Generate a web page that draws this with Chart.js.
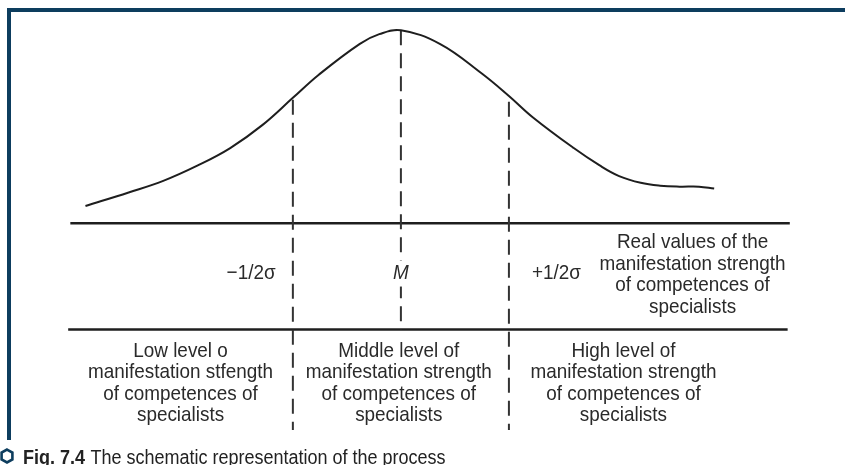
<!DOCTYPE html>
<html>
<head>
<meta charset="utf-8">
<script src="https://cdn.jsdelivr.net/npm/chart.js@4.4.1/dist/chart.umd.min.js"></script>
<style>
  html,body{margin:0;padding:0;background:#fff;}
  #wrap{position:relative;width:845px;height:465px;overflow:hidden;background:#fff;}
  #frame{position:absolute;left:7px;top:8px;width:838px;height:432px;border-top:4px solid #0d3d5e;border-left:4px solid #0d3d5e;box-sizing:border-box;}
  #fig{position:absolute;left:0;top:0;width:845px;height:465px;}
  #caption{position:absolute;left:0;top:446px;height:22px;font:20px "Liberation Sans",Arial,sans-serif;color:#222;white-space:nowrap;line-height:22px;}
  #caption svg{position:absolute;left:0;top:2px;}
  #caption span{position:absolute;left:23px;top:0;transform:scaleX(0.9);transform-origin:0 0;}
  #caption b{margin-right:6px;}
</style>
</head>
<body>
<div id="wrap">
  <div id="frame"></div>
  <canvas id="fig" width="845" height="465"></canvas>
  <div id="caption"><svg width="14" height="16" viewBox="0 0 14 16"><polygon points="7,1.6 12.4,4.6 12.4,11.4 7,14.4 1.6,11.4 1.6,4.6" fill="none" stroke="#0d3d5e" stroke-width="2.6"/></svg><span><b>Fig. 7.4</b>The schematic representation of the process</span></div>
</div>
<script>
/* distribution curve, x in sigma units from M, y relative to the peak */
const curveX=[-1.46,-1.26,-1.1,-0.94,-0.79,-0.64,-0.5,-0.38,-0.19,-0.1,0,0.18,0.37,0.5,0.61,0.8,0.92,1.01,1.11,1.2,1.29,1.38,1.45];
const curveY=[0.09,0.16,0.22,0.3,0.39,0.51,0.65,0.77,0.93,0.98,1,0.93,0.78,0.66,0.55,0.39,0.3,0.245,0.21,0.195,0.19,0.19,0.18];

/* vertical dashed marks: -1/2σ, M, +1/2σ */
const markX=[-0.5,0,0.5];
const markTop=[0.64,1,0.63];
const markBottom=[-1.07,-0.55,-1.07];

/* the two horizontal rules of the scale table */
const ruleY=[0,-0.55];
const ruleFrom=[-1.53,-1.54];
const ruleTo=[1.8,1.79];

/* texts */
const markLabels=['\u22121/2\u03c3','M','+1/2\u03c3'];
const axisNote=['Real values of the','manifestation strength','of competences of','specialists'];
const levelTexts=[
  ['Low level o','manifestation stfength','of competences of','specialists'],
  ['Middle level of','manifestation strength','of competences of','specialists'],
  ['High level of','manifestation strength','of competences of','specialists']
];

const INK='#2a2a2a';
const FONT='"Liberation Sans",Arial,sans-serif';
const SQUEEZE=0.9; // narrow the face a bit, condensed look

const datasets=[];
datasets.push({data:curveX.map((x,i)=>({x,y:curveY[i]})),borderColor:'#1e1e1e',borderWidth:2,tension:0.4,pointRadius:0,showLine:true});
markX.forEach((x,i)=>{
  datasets.push({data:[{x,y:markTop[i]},{x,y:markBottom[i]}],borderColor:'#333',borderWidth:2,borderDash:[15,8],pointRadius:0,showLine:true});
});
ruleY.forEach((y,i)=>{
  datasets.push({data:[{x:ruleFrom[i],y},{x:ruleTo[i],y}],borderColor:'#1e1e1e',borderWidth:2.5,pointRadius:0,showLine:true});
});

function say(g,t,x,y,align){
  g.save();
  g.translate(x,y);
  g.scale(SQUEEZE,1);
  g.textAlign=align||'center';
  g.fillText(t,0,0);
  g.restore();
}

/* text layer, placed on the same scales */
const textLayer={
  id:'textLayer',
  afterDatasetsDraw(c){
    const g=c.ctx,sx=c.scales.x,sy=c.scales.y;
    g.save();
    g.fillStyle=INK;
    g.textBaseline='middle';
    const lh=21.5;
    // sigma marks row
    const rowY=sy.getPixelForValue(-0.26);
    g.font='21px '+FONT;
    say(g,markLabels[0],sx.getPixelForValue(-0.58),rowY,'right');
    const mx=sx.getPixelForValue(0);
    g.fillStyle='#fff';
    g.fillRect(mx-10,rowY-13,20,26);
    g.fillStyle=INK;
    g.font='italic 21px '+FONT;
    say(g,markLabels[1],mx,rowY);
    g.font='21px '+FONT;
    say(g,markLabels[2],sx.getPixelForValue(0.72),rowY);
    // note at the right end of the scale
    const noteX=sx.getPixelForValue(1.35),noteTop=sy.getPixelForValue(-0.1);
    axisNote.forEach((t,i)=>say(g,t,noteX,noteTop+i*lh));
    // level descriptions under the scale
    const colX=[-1.02,-0.01,1.03];
    const top=sy.getPixelForValue(-0.66);
    levelTexts.forEach((lines,k)=>{
      lines.forEach((t,i)=>say(g,t,sx.getPixelForValue(colX[k]),top+i*lh));
    });
    g.restore();
  }
};

new Chart(document.getElementById('fig'),{
  type:'scatter',
  data:{datasets},
  options:{
    responsive:false,animation:false,
    layout:{padding:{left:12,right:12,top:11,bottom:10}},
    plugins:{legend:{display:false},tooltip:{enabled:false}},
    scales:{
      x:{type:'linear',min:-1.8,max:2.0,display:false},
      y:{type:'linear',min:-1.2,max:1.1,display:false}
    }
  },
  plugins:[textLayer]
});
</script>
</body>
</html>
